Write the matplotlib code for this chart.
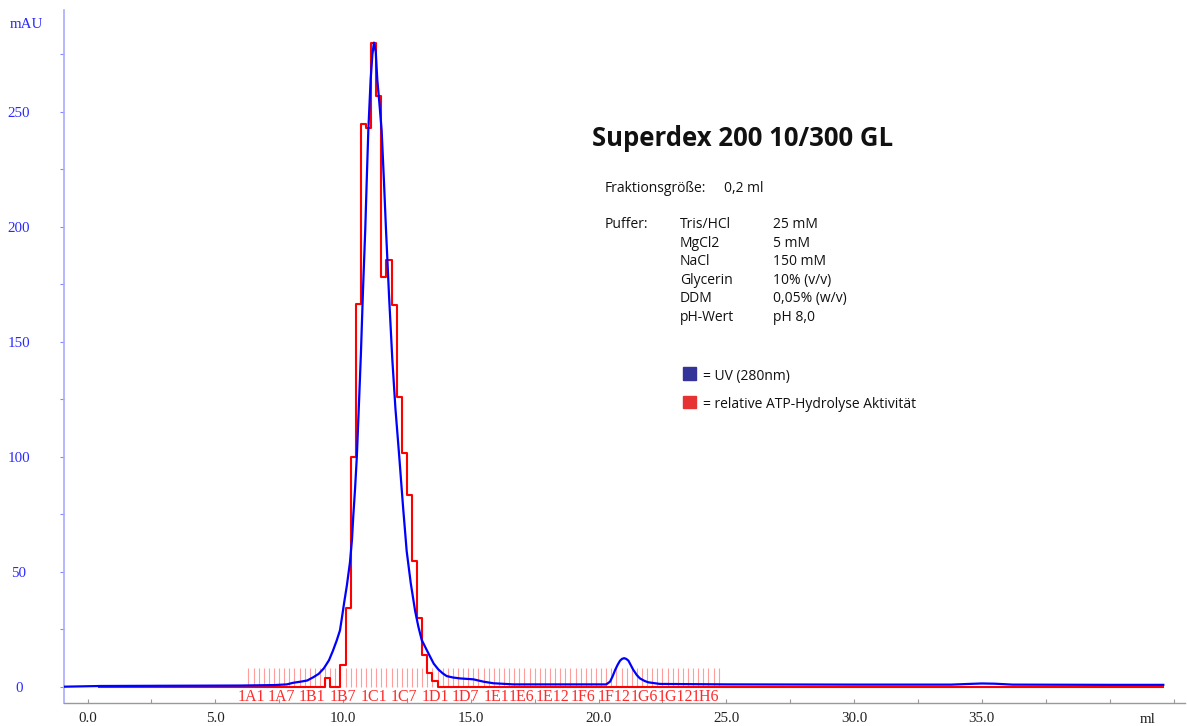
import numpy as np
import matplotlib
matplotlib.use('Agg')
import matplotlib.pyplot as plt
from matplotlib.patches import Rectangle
from matplotlib.ticker import MultipleLocator, FormatStrFormatter

# UV 280 nm trace (ml, mAU)
uv_ml = [-0.92, 0.5, 3.0, 6.0, 7.3, 7.8, 8.05, 8.35, 8.6, 8.85, 9.05, 9.25, 9.45, 9.6, 9.75,
         9.88, 9.95, 10.05, 10.15, 10.27, 10.35, 10.4, 10.47, 10.54, 10.63, 10.7, 10.78, 10.87,
         10.93, 10.99, 11.08, 11.15, 11.21, 11.28, 11.34, 11.42, 11.51, 11.6, 11.68, 11.8, 11.93,
         12.05, 12.2, 12.35, 12.49, 12.65, 12.82, 12.95, 13.08, 13.25, 13.41, 13.55, 13.73, 13.9,
         14.06, 14.3, 14.58, 15.1, 15.49, 15.88, 16.67, 18.6, 20.3, 20.45, 20.55, 20.65, 20.75,
         20.84, 20.92, 21.0, 21.08, 21.17, 21.26, 21.36, 21.5, 21.62, 21.8, 21.95, 22.4, 25.0,
         30.0, 33.8, 34.5, 35.0, 35.5, 36.2, 40.0, 42.1]
uv_mau = [0, 0.3, 0.4, 0.5, 0.7, 1.0, 1.7, 2.2, 2.7, 4.2, 5.6, 8.0, 11.5, 15.5, 20,
          24.5, 29.5, 37, 44, 54, 64, 74, 86, 100, 125, 145, 172, 199,
          221, 242, 264, 275, 280, 276, 264, 254, 242, 220, 199, 170, 142,
          121, 100, 78, 59, 45, 33, 26, 20.3, 16.5, 13, 10, 7.5, 5.8,
          4.6, 4.0, 3.6, 3.2, 2.2, 1.5, 1.0, 1.0, 1.0, 2.2, 4.5, 7.3, 9.6,
          11.3, 12.1, 12.4, 12.1, 11.3, 9.4, 7.3, 5.0, 3.6, 2.5, 1.9, 1.2, 1.0,
          0.9, 0.9, 1.2, 1.4, 1.3, 0.9, 0.8, 0.8]

# relative ATP-Hydrolyse Aktivitaet per Fraktion (step start in ml, value)
act_ml = [0.45, 9.3, 9.5, 9.9, 10.1, 10.3, 10.5, 10.7, 10.9, 11.1, 11.3, 11.5, 11.7, 11.9,
          12.1, 12.3, 12.5, 12.7, 12.9, 13.1, 13.3, 13.5, 13.7, 42.1]
act_val = [0, 3.9, 0, 9.4, 34.2, 99.9, 166.4, 244.7, 243, 280, 256.8, 178, 185.5, 166,
           126, 101.6, 83.3, 54.8, 30, 13.8, 6, 2.6, 0, 0]

# Fraktionen
frac_start = 6.3
frac_size = 0.2
n_frac = 92
frac_labels = ['1A1', '1A7', '1B1', '1B7', '1C1', '1C7', '1D1', '1D7', '1E1', '1E6',
               '1E12', '1F6', '1F12', '1G6', '1G12', '1H6']
frac_idx = [1, 7, 13, 19, 25, 31, 37, 43, 49, 54, 60, 66, 72, 78, 84, 90]

puffer_names = ['Tris/HCl', 'MgCl2', 'NaCl', 'Glycerin', 'DDM', 'pH-Wert']
puffer_vals = ['25 mM', '5 mM', '150 mM', '10% (v/v)', '0,05% (w/v)', 'pH 8,0']

W, H = 1187, 726
fig = plt.figure(figsize=(W / 100, H / 100), dpi=100)
ax = fig.add_axes([64 / W, 23 / H, 1121 / W, 693 / H])
ax.set_xlim(-0.92, 42.95)
ax.set_ylim(-7.09, 294.2)

serif = 'Liberation Serif'
sans = 'Open Sans'
fs = 10.0

# fraction marks
edges = frac_start + frac_size * np.arange(n_frac + 1)
ax.vlines(edges, 0, 8.2, color='#ff9c9c', lw=0.8, zorder=1)
for lab, i in zip(frac_labels, frac_idx):
    ax.text(frac_start + (i - 0.5) * frac_size, -6.3, lab, ha='center', va='baseline',
            color='#ff2a2a', fontsize=11.5, family=serif, zorder=4)

ax.step(act_ml, act_val, where='post', color='#ff0000', lw=1.5, zorder=2)
ax.plot(uv_ml, uv_mau, color='#0000ff', lw=1.6, zorder=3)

# axes styling
for s in ['top', 'right']:
    ax.spines[s].set_visible(False)
ax.spines['left'].set_color('#aaaaff')
ax.spines['left'].set_linewidth(1.2)
ax.spines['bottom'].set_color('#999999')
ax.spines['bottom'].set_linewidth(1.0)

ax.xaxis.set_minor_locator(MultipleLocator(2.5))
ax.xaxis.set_major_formatter(FormatStrFormatter('%.1f'))
ax.set_xticks(np.arange(0, 40, 5))
ax.tick_params(axis='x', which='both', direction='in', length=3, width=0.8, color='#999999',
               pad=6.5, labelsize=10.8, labelcolor='#222222')
ax.set_yticks(np.arange(0, 251, 50))
ax.yaxis.set_minor_locator(MultipleLocator(25))
ax.tick_params(axis='y', which='both', direction='out', length=3, width=0.8, color='#8888ff',
               pad=29.5, labelsize=10.8, labelcolor='#2a2aff')
for lab in ax.get_xticklabels() + ax.get_yticklabels():
    lab.set_family(serif)
for lab in ax.get_yticklabels():
    lab.set_ha('center')

fig.text(26 / W, 1 - 28.3 / H, 'mAU', ha='center', va='baseline', color='#2a2aff',
         fontsize=10.8, family=serif)
fig.text(1148 / W, 1 - 723 / H, 'ml', ha='center', va='baseline', color='#222222',
         fontsize=10.8, family=serif)

# annotation
fig.text(592 / W, 1 - 146 / H, 'Superdex 200 10/300 GL', ha='left', va='baseline',
         fontsize=18.5, fontweight='bold', family=sans, color='#111111')
fig.text(605 / W, 1 - 191.7 / H, 'Fraktionsgröße:', ha='left', va='baseline',
         fontsize=fs, family=sans, color='#111111')
fig.text(724 / W, 1 - 191.7 / H, '0,2 ml', ha='left', va='baseline',
         fontsize=fs, family=sans, color='#111111')
fig.text(605 / W, 1 - 228.3 / H, 'Puffer:', ha='left', va='baseline',
         fontsize=fs, family=sans, color='#111111')
for k, (nm, val) in enumerate(zip(puffer_names, puffer_vals)):
    yb = 228.3 + k * 18.45
    fig.text(680 / W, 1 - yb / H, nm, ha='left', va='baseline', fontsize=fs,
             family=sans, color='#111111')
    fig.text(773 / W, 1 - yb / H, val, ha='left', va='baseline', fontsize=fs,
             family=sans, color='#111111')

fig.add_artist(Rectangle((683 / W, 1 - 380 / H), 13.5 / W, 13.3 / H,
                         transform=fig.transFigure, color='#333399'))
fig.text(703 / W, 1 - 380 / H, '= UV (280nm)', ha='left', va='baseline', fontsize=fs,
         family=sans, color='#111111')
fig.add_artist(Rectangle((683 / W, 1 - 408.3 / H), 13.5 / W, 12.5 / H,
                         transform=fig.transFigure, color='#e63232'))
fig.text(703 / W, 1 - 408.3 / H, '= relative ATP-Hydrolyse Aktivität', ha='left',
         va='baseline', fontsize=fs, family=sans, color='#111111')

fig.savefig('out.png', dpi=100)
